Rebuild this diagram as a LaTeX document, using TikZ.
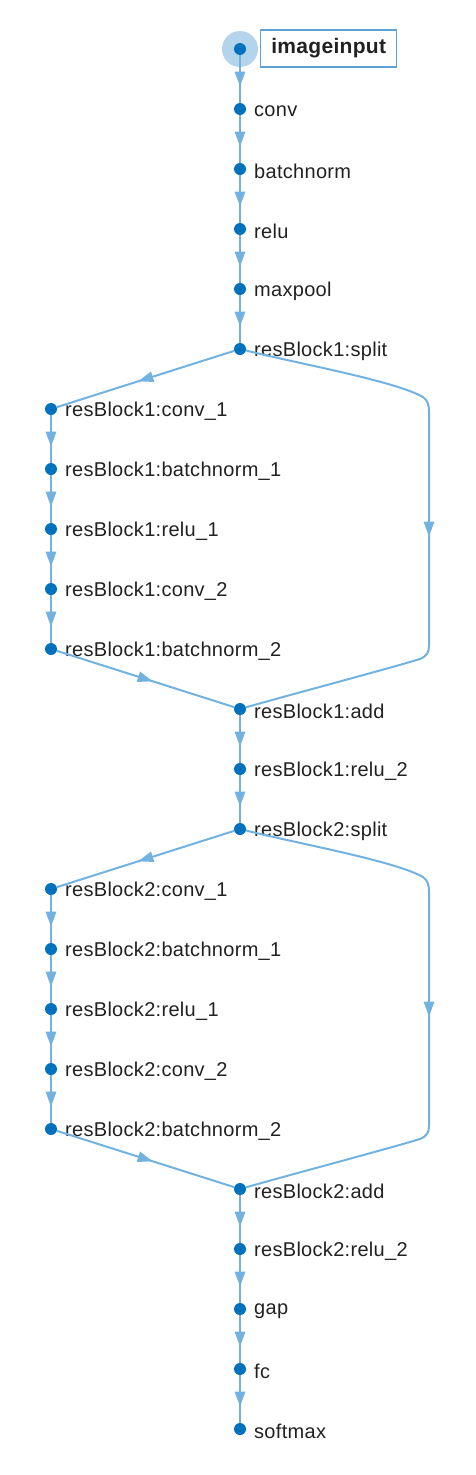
\documentclass[tikz,border=0pt]{standalone}
\usepackage{fontspec}
\setmainfont{Liberation Sans}[LetterSpace=1.5]
\usetikzlibrary{decorations.markings}
\definecolor{edgec}{RGB}{114,178,224}
\definecolor{dotc}{RGB}{0,114,189}
\definecolor{hlc}{RGB}{180,212,236}
\definecolor{boxc}{RGB}{95,160,215}
\definecolor{txt}{RGB}{33,33,33}
\tikzset{
  dot/.style={circle,fill=dotc,inner sep=0pt,minimum size=12pt},
  lbl/.style={anchor=west,text=txt,inner sep=0pt,font=\fontsize{20}{20}\selectfont},
  midarrow/.style={postaction={decorate},decoration={markings,
     mark=at position 0.5 with {\fill[edgec] (7.5,0) -- (-7.5,5.5) -- (-7.5,-5.5) -- cycle;}}},
  edge/.style={draw=edgec,line width=2pt,midarrow},
  skip/.style={draw=edgec,line width=2pt},
}
\begin{document}
\begin{tikzpicture}[x=1pt,y=-1pt]
\useasboundingbox (0,0) rectangle (475,1475);
% highlight
\fill[hlc] (240,49) circle (18);
% nodes
\node[dot] (n0) at (240,49) {};
\node[dot] (n1) at (240,109) {};
\node[dot] (n2) at (240,169) {};
\node[dot] (n3) at (240,229) {};
\node[dot] (n4) at (240,289) {};
\node[dot] (s1) at (240,349) {};
\node[dot] (a1) at (51,409) {};
\node[dot] (a2) at (51,469) {};
\node[dot] (a3) at (51,529) {};
\node[dot] (a4) at (51,589) {};
\node[dot] (a5) at (51,649) {};
\node[dot] (d1) at (240,709) {};
\node[dot] (r1) at (240,769) {};
\node[dot] (s2) at (240,829) {};
\node[dot] (b1) at (51,889) {};
\node[dot] (b2) at (51,949) {};
\node[dot] (b3) at (51,1009) {};
\node[dot] (b4) at (51,1069) {};
\node[dot] (b5) at (51,1129) {};
\node[dot] (d2) at (240,1189) {};
\node[dot] (r2) at (240,1249) {};
\node[dot] (g) at (240,1309) {};
\node[dot] (f) at (240,1369) {};
\node[dot] (sm) at (240,1429) {};
% labels
\node[draw=boxc,line width=1.4pt,text=txt,inner xsep=5pt,minimum height=37pt,minimum width=136pt,
      font=\fontsize{21}{21}\selectfont\bfseries,anchor=west] (l0) at (260,48.5) {imageinput};
\node[lbl] (l1) at (254,111) {conv};
\node[lbl] (l2) at (254,171) {batchnorm};
\node[lbl] (l3) at (254,231) {relu};
\node[lbl] (l4) at (254,291) {maxpool};
\node[lbl] (ls1) at (254,351) {resBlock1:split};
\node[lbl] (la1) at (65,411) {resBlock1:conv\_1};
\node[lbl] (la2) at (65,471) {resBlock1:batchnorm\_1};
\node[lbl] (la3) at (65,531) {resBlock1:relu\_1};
\node[lbl] (la4) at (65,591) {resBlock1:conv\_2};
\node[lbl] (la5) at (65,651) {resBlock1:batchnorm\_2};
\node[lbl] (ld1) at (254,711) {resBlock1:add};
\node[lbl] (lr1) at (254,771) {resBlock1:relu\_2};
\node[lbl] (ls2) at (254,831) {resBlock2:split};
\node[lbl] (lb1) at (65,891) {resBlock2:conv\_1};
\node[lbl] (lb2) at (65,951) {resBlock2:batchnorm\_1};
\node[lbl] (lb3) at (65,1011) {resBlock2:relu\_1};
\node[lbl] (lb4) at (65,1071) {resBlock2:conv\_2};
\node[lbl] (lb5) at (65,1131) {resBlock2:batchnorm\_2};
\node[lbl] (ld2) at (254,1191) {resBlock2:add};
\node[lbl] (lr2) at (254,1251) {resBlock2:relu\_2};
\node[lbl] (lg) at (254,1311) {gap};
\node[lbl] (lf) at (254,1371) {fc};
\node[lbl] (lsm) at (254,1431) {softmax};
% edges
\foreach \u/\v in {n0/n1,n1/n2,n2/n3,n3/n4,n4/s1,s1/a1,a1/a2,a2/a3,a3/a4,a4/a5,a5/d1,d1/r1,r1/s2,
                   s2/b1,b1/b2,b2/b3,b3/b4,b4/b5,b5/d2,d2/r2,r2/g,g/f,f/sm}
  \draw[edge] (\u) -- (\v);
% skip connections
\foreach \s/\d/\o in {s1/d1/0,s2/d2/480}{
  \coordinate (t\s) at (429,412+\o);
  \coordinate (b\s) at (429,646+\o);
  \draw[skip] (\s) .. controls (300,364+\o) and (395,381+\o) .. (423,397+\o)
     .. controls (428,401+\o) and (429,405+\o) .. (t\s) -- (b\s)
     .. controls (429,652+\o) and (427,656+\o) .. (420,659+\o)
     .. controls (380,671+\o) and (300,692+\o) .. (\d);
  \path[midarrow] (t\s) -- (b\s);
}
\end{tikzpicture}
\end{document}
